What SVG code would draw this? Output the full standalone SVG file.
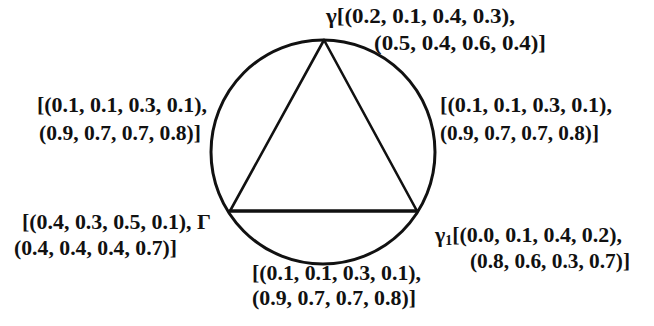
<svg xmlns="http://www.w3.org/2000/svg" width="654" height="326" viewBox="0 0 654 326">
<style>
text{font-family:"Liberation Serif","Times New Roman",serif;font-weight:bold;font-size:22px;fill:#111}
.sub{font-size:14px}
</style>
<rect width="654" height="326" fill="#fff"/>
<g id="edges" fill="none" stroke="#111" stroke-linecap="round">
<circle cx="323" cy="152" r="112" stroke-width="3"/>
<line x1="324" y1="40" x2="230" y2="211" stroke-width="2.6"/>
<line x1="324" y1="40" x2="417" y2="211" stroke-width="2.6"/>
<line x1="230" y1="211" x2="417" y2="211" stroke-width="3.6"/>
</g>
<g id="node-top">
<text x="326" y="23" textLength="189" lengthAdjust="spacingAndGlyphs">γ[(0.2, 0.1, 0.4, 0.3),</text>
<text x="374" y="50" textLength="172" lengthAdjust="spacingAndGlyphs">(0.5, 0.4, 0.6, 0.4)]</text>
</g>
<g id="node-right-edge">
<text x="440" y="112" textLength="172" lengthAdjust="spacingAndGlyphs">[(0.1, 0.1, 0.3, 0.1),</text>
<text x="440" y="140" textLength="159" lengthAdjust="spacingAndGlyphs">(0.9, 0.7, 0.7, 0.8)]</text>
</g>
<g id="node-left-edge">
<text x="37" y="112" textLength="170" lengthAdjust="spacingAndGlyphs">[(0.1, 0.1, 0.3, 0.1),</text>
<text x="39" y="140" textLength="162" lengthAdjust="spacingAndGlyphs">(0.9, 0.7, 0.7, 0.8)]</text>
</g>
<g id="node-left">
<text x="22" y="229" textLength="189" lengthAdjust="spacingAndGlyphs">[(0.4, 0.3, 0.5, 0.1), Γ</text>
<text x="14" y="255" textLength="163" lengthAdjust="spacingAndGlyphs">(0.4, 0.4, 0.4, 0.7)]</text>
</g>
<g id="node-right">
<text x="435" y="242" textLength="187" lengthAdjust="spacingAndGlyphs">γ<tspan class="sub" dy="3">1</tspan><tspan dy="-3">[(0.0, 0.1, 0.4, 0.2),</tspan></text>
<text x="470" y="268" textLength="160" lengthAdjust="spacingAndGlyphs">(0.8, 0.6, 0.3, 0.7)]</text>
</g>
<g id="node-bottom-edge">
<text x="252" y="280" textLength="169" lengthAdjust="spacingAndGlyphs">[(0.1, 0.1, 0.3, 0.1),</text>
<text x="252" y="305" textLength="164" lengthAdjust="spacingAndGlyphs">(0.9, 0.7, 0.7, 0.8)]</text>
</g>
</svg>
